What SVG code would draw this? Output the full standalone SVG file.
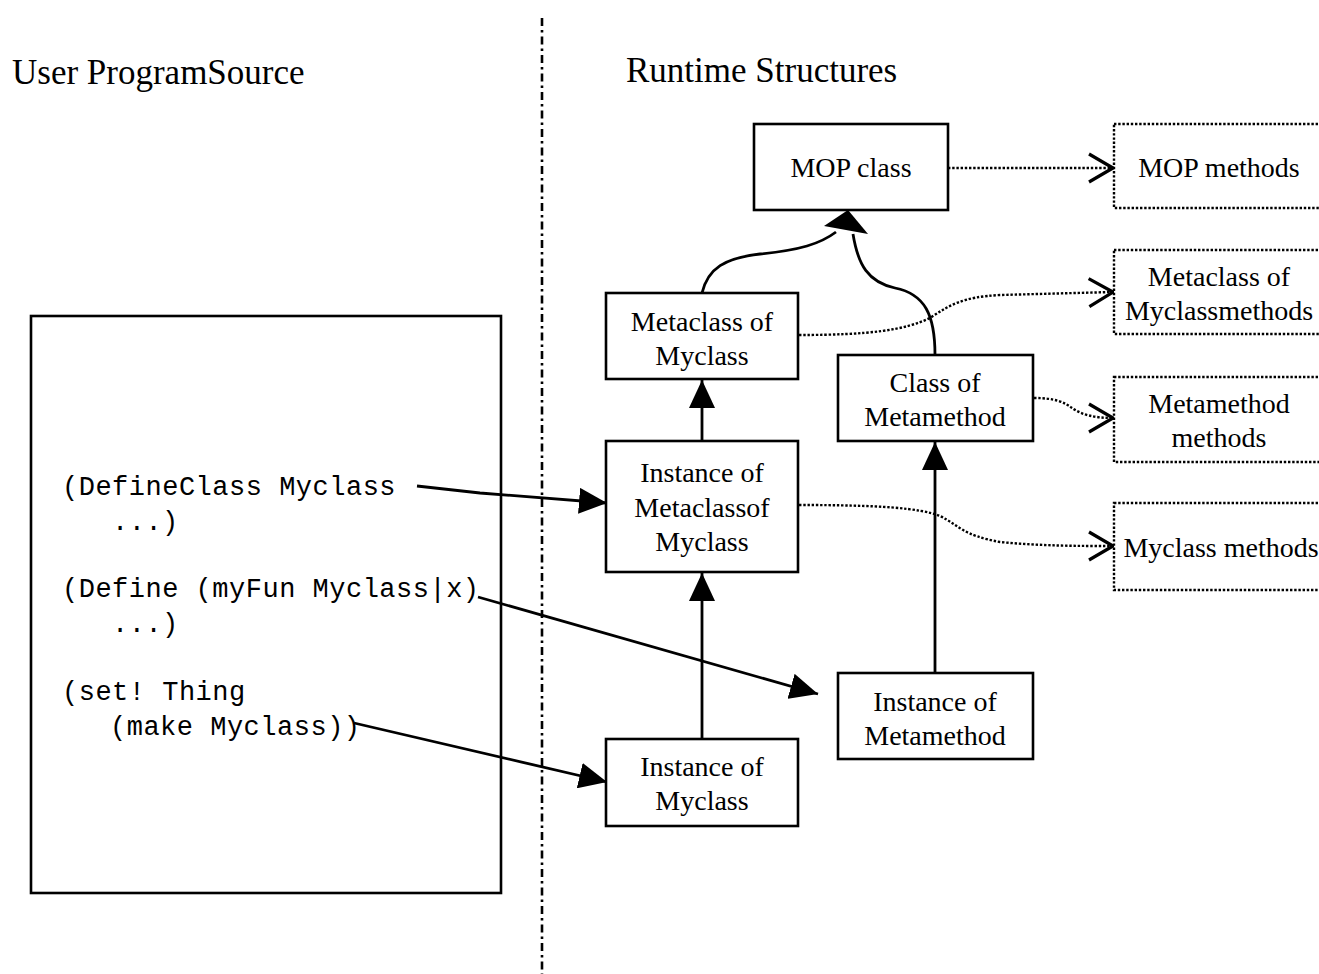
<svg xmlns="http://www.w3.org/2000/svg" width="1319" height="974" viewBox="0 0 1319 974">
  <style>
    .box { fill: #fff; stroke: #000; stroke-width: 2.6; }
    .dbox { fill: #fff; stroke: #000; stroke-width: 2.4; stroke-dasharray: 2.4 1.8; }
    .lbl { font-family: "Liberation Serif", "Times New Roman", serif; font-size: 28px; fill: #000; text-anchor: middle; }
    .head { font-family: "Liberation Serif", "Times New Roman", serif; font-size: 35px; fill: #000; }
    .code { font-family: "Liberation Mono", "Courier New", monospace; font-size: 27px; letter-spacing: 0.5px; fill: #000; }
    .solid { fill: none; stroke: #000; stroke-width: 2.8; }
    .dot { fill: none; stroke: #000; stroke-width: 2.4; stroke-dasharray: 2.4 1.8; }
  </style>
  <defs>
    <marker id="fill" viewBox="0 0 28 26" refX="28" refY="13" markerWidth="28" markerHeight="26" markerUnits="userSpaceOnUse" orient="auto">
      <path d="M0,0 L28,13 L0,26 z" fill="#000"/>
    </marker>
    <marker id="vee" viewBox="-2 -2 28 32" refX="24" refY="14" markerWidth="28" markerHeight="32" markerUnits="userSpaceOnUse" orient="auto">
      <path d="M0,0 L24,14 L0,28" fill="none" stroke="#000" stroke-width="3.2"/>
    </marker>
  </defs>

  <!-- section headings and divider -->
  <text class="head" x="12" y="84">User ProgramSource</text>
  <text class="head" x="626" y="82">Runtime Structures</text>
  <line x1="542" y1="18" x2="542" y2="974" stroke="#000" stroke-width="2.6" stroke-dasharray="8 4 2.5 4"/>

  <!-- source listing -->
  <g id="source">
    <rect class="box" x="31" y="316" width="470" height="577"/>
    <text class="code" x="62" y="495">(DefineClass Myclass</text>
    <text class="code" x="112" y="530">...)</text>
    <text class="code" x="62" y="597">(Define (myFun Myclass|x)</text>
    <text class="code" x="112" y="632">...)</text>
    <text class="code" x="62" y="700">(set! Thing</text>
    <text class="code" x="110" y="735">(make Myclass))</text>
  </g>

  <!-- connectors -->
  <g id="connectors">
    <path class="solid" d="M702,293 C708,268 725,258 760,254 C800,250 820,244 836,232"/>
    <path class="solid" d="M853,234 C858,265 868,282 895,288 C925,294 935,315 935,355"/>
    <polygon points="848,210 824,226 868,234" fill="#000"/>
    <line class="solid" x1="702" y1="441" x2="702" y2="380" marker-end="url(#fill)"/>
    <line class="solid" x1="702" y1="738" x2="702" y2="573" marker-end="url(#fill)"/>
    <line class="solid" x1="935" y1="673" x2="935" y2="442" marker-end="url(#fill)"/>
    <path class="solid" d="M417,486 L480,493 L607,503" marker-end="url(#fill)"/>
    <path class="solid" d="M478,597 L818,694" marker-end="url(#fill)"/>
    <path class="solid" d="M354,723 L607,782" marker-end="url(#fill)"/>
    <line class="dot" x1="948" y1="168" x2="1113" y2="168" marker-end="url(#vee)"/>
    <path class="dot" d="M799,335 C870,335 905,330 930,318 C950,305 962,297 1000,295 L1113,292" marker-end="url(#vee)"/>
    <path class="dot" d="M1034,398 C1055,398 1064,402 1072,408 C1082,415 1095,418 1113,418" marker-end="url(#vee)"/>
    <path class="dot" d="M799,505 C880,505 920,508 940,516 C960,526 962,535 1000,542 C1040,546 1080,546 1113,546" marker-end="url(#vee)"/>
  </g>

  <!-- runtime structures -->
  <g id="mop-class">
    <rect class="box" x="754" y="124" width="194" height="86"/>
    <text class="lbl" x="851" y="177">MOP class</text>
  </g>
  <g id="mop-methods">
    <rect class="dbox" x="1114" y="124" width="220" height="84"/>
    <text class="lbl" x="1219" y="177">MOP methods</text>
  </g>
  <g id="metaclass-methods">
    <rect class="dbox" x="1114" y="250" width="220" height="84"/>
    <text class="lbl" x="1219" y="286">Metaclass of</text>
    <text class="lbl" x="1219" y="320">Myclassmethods</text>
  </g>
  <g id="metamethod-methods">
    <rect class="dbox" x="1114" y="377" width="220" height="85"/>
    <text class="lbl" x="1219" y="413">Metamethod</text>
    <text class="lbl" x="1219" y="447">methods</text>
  </g>
  <g id="myclass-methods">
    <rect class="dbox" x="1114" y="503" width="220" height="87"/>
    <text class="lbl" x="1221" y="557">Myclass methods</text>
  </g>
  <g id="metaclass-of-myclass">
    <rect class="box" x="606" y="293" width="192" height="86"/>
    <text class="lbl" x="702" y="331">Metaclass of</text>
    <text class="lbl" x="702" y="365">Myclass</text>
  </g>
  <g id="class-of-metamethod">
    <rect class="box" x="838" y="355" width="195" height="86"/>
    <text class="lbl" x="935" y="392">Class of</text>
    <text class="lbl" x="935" y="426">Metamethod</text>
  </g>
  <g id="instance-of-metaclass">
    <rect class="box" x="606" y="441" width="192" height="131"/>
    <text class="lbl" x="702" y="482">Instance of</text>
    <text class="lbl" x="702" y="517">Metaclassof</text>
    <text class="lbl" x="702" y="551">Myclass</text>
  </g>
  <g id="instance-of-metamethod">
    <rect class="box" x="838" y="673" width="195" height="86"/>
    <text class="lbl" x="935" y="711">Instance of</text>
    <text class="lbl" x="935" y="745">Metamethod</text>
  </g>
  <g id="instance-of-myclass">
    <rect class="box" x="606" y="739" width="192" height="87"/>
    <text class="lbl" x="702" y="776">Instance of</text>
    <text class="lbl" x="702" y="810">Myclass</text>
  </g>
</svg>
